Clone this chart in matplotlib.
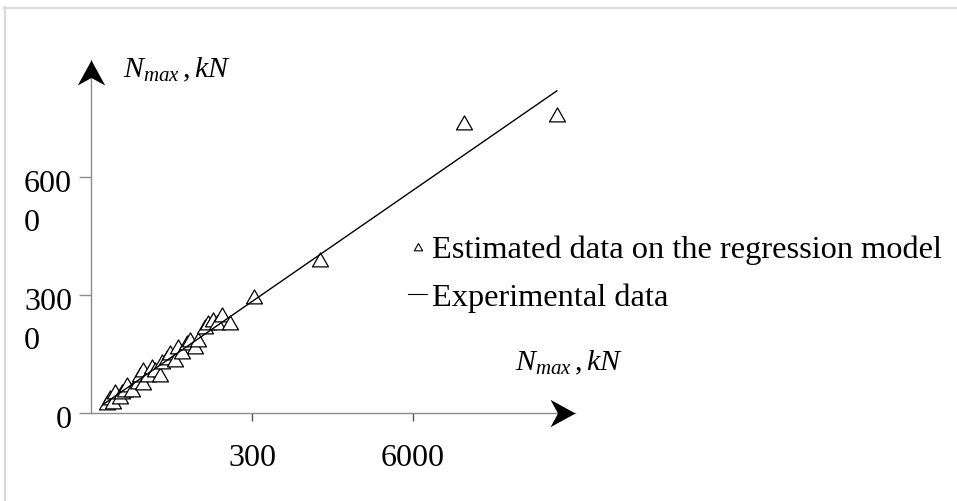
import matplotlib.pyplot as plt
from matplotlib.path import Path
from matplotlib.lines import Line2D
from matplotlib.transforms import ScaledTranslation

plt.rcParams['font.family'] = ['Liberation Serif', 'DejaVu Serif']
plt.rcParams['mathtext.fontset'] = 'custom'
plt.rcParams['mathtext.rm'] = 'Liberation Serif'
plt.rcParams['mathtext.it'] = 'Liberation Serif:italic'

# --- data ---
est_x = [300, 350, 410, 450, 540, 580, 630, 670, 760, 880, 910, 970, 970, 1060,
         1140, 1190, 1290, 1320, 1420, 1470, 1570, 1620, 1700, 1790, 1840, 1940,
         1990, 2120, 2180, 2270, 2350, 2440, 2590, 3040, 4270, 6950, 8680]
est_y = [250, 380, 280, 530, 410, 530, 590, 710, 590, 790, 970, 1090, 760, 970,
         1170, 1090, 970, 1300, 1400, 1530, 1350, 1680, 1550, 1780, 1860, 1680,
         1860, 2190, 2290, 2360, 2290, 2490, 2290, 2950, 3890, 7370, 7580]

exp_x = [250, 8680]
exp_y = [240, 8190]

x_ticks = [3000, 6000]
x_tick_labels = ['300', '6000']
y_ticks = [0, 3000, 6000]
y_tick_labels = ['0', '300\n0', '600\n0']

axis_label = r'$N_{max}\,,kN$'
legend_labels = ['Estimated data on the regression model', 'Experimental data']

# --- figure / axes geometry (pixels at dpi=100) ---
W, H = 957, 501
fig = plt.figure(figsize=(W / 100, H / 100), dpi=100)
x0, y0 = 91, 413          # origin in pixels
x1, y1 = 575, 60          # arrow tips
ax = fig.add_axes([x0 / W, (H - y0) / H, (x1 - x0) / W, (y0 - y1) / H])
ax.set_xlim(0, 3000 * (x1 - x0) / 161)
ax.set_ylim(0, 3000 * (y0 - y1) / 118)

# triangle marker a bit wider than tall
tri = Path([(-1, -0.8), (1, -0.8), (0, 0.95), (-1, -0.8)],
           [Path.MOVETO, Path.LINETO, Path.LINETO, Path.CLOSEPOLY])

pts, = ax.plot(est_x, est_y, ls='none', marker=tri, ms=11.5, mfc='white',
               mec='black', mew=0.9, zorder=3, clip_on=False)
line, = ax.plot(exp_x, exp_y, color='black', lw=1.0, zorder=4)

# axes: only left/bottom, gray, with arrow heads
for s in ['top', 'right']:
    ax.spines[s].set_visible(False)
for s in ['left', 'bottom']:
    ax.spines[s].set_color('#8c8c8c')
    ax.spines[s].set_linewidth(1.0)

arrow_x = Path([(0, 0), (-1, 0.55), (-0.7, 0), (-1, -0.55), (0, 0)],
               [Path.MOVETO, Path.LINETO, Path.LINETO, Path.LINETO, Path.CLOSEPOLY])
arrow_y = Path([(0, 0), (0.55, -1), (0, -0.7), (-0.55, -1), (0, 0)],
               [Path.MOVETO, Path.LINETO, Path.LINETO, Path.LINETO, Path.CLOSEPOLY])
ax.plot([1], [0], marker=arrow_x, ms=36, color='black', mew=0,
        transform=ax.transAxes, clip_on=False, zorder=5)
ax.plot([0], [1], marker=arrow_y, ms=36, color='black', mew=0,
        transform=ax.transAxes, clip_on=False, zorder=5)

# ticks
ax.set_xticks(x_ticks, labels=x_tick_labels)
ax.tick_params(axis='x', direction='out', length=6, width=1, color='#555555',
               pad=16, labelsize=23)
ax.set_yticks(y_ticks, labels=['' for _ in y_ticks])
ax.tick_params(axis='y', direction='out', length=9, width=1, color='#8c8c8c')

ytrans = ax.get_yaxis_transform() + ScaledTranslation(-0.19, 0.07, fig.dpi_scale_trans)
for yv, lab in zip(y_ticks, y_tick_labels):
    ax.text(0, yv, lab, transform=ytrans, ha='right', va='top',
            multialignment='left', fontsize=23, linespacing=1.45)

# axis labels next to the arrows
ax.annotate(axis_label, xy=(0, 1), xycoords='axes fraction',
            xytext=(32 * 0.72, -10 * 0.72), textcoords='offset points',
            ha='left', va='center', fontsize=21.5)
ax.annotate(axis_label, xy=(1, 0), xycoords='axes fraction',
            xytext=(-60 * 0.72, 50 * 0.72), textcoords='offset points',
            ha='left', va='center', fontsize=21.5)

# legend
h1 = Line2D([], [], ls='none', marker=tri, ms=6, mfc='white', mec='black', mew=0.8)
h2 = Line2D([], [], color='black', lw=0.8)
fig.legend([h1, h2], legend_labels, loc='center left',
           bbox_to_anchor=(408 / W, 1 - 274 / H), frameon=False, fontsize=23.3,
           handlelength=0.6, handletextpad=0.15, labelspacing=0.55, borderpad=0,
           borderaxespad=0)

# light frame around the picture
fig.add_artist(Line2D([4 / W, 1], [1 - 7.5 / H, 1 - 7.5 / H], color='#d9d9d9', lw=1.5))
fig.add_artist(Line2D([4.5 / W, 4.5 / W], [0, 1 - 7 / H], color='#d9d9d9', lw=1.5))

fig.savefig('out.png', dpi=100)
